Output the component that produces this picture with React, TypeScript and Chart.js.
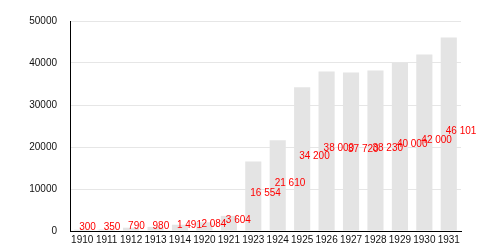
import React, { useEffect, useRef } from "react";
import { Chart, registerables } from "chart.js";

Chart.register(...registerables);

const years = ["1910", "1911", "1912", "1913", "1914", "1920", "1921", "1923", "1924", "1925", "1926", "1927", "1928", "1929", "1930", "1931"];
const population = [300, 350, 790, 980, 1491, 2084, 3604, 16554, 21610, 34200, 38000, 37720, 38230, 40000, 42000, 46101];
const yTicks = [0, 10000, 20000, 30000, 40000, 50000];

const fmt = (v: number) => String(v).replace(/\B(?=(\d{3})+(?!\d))/g, " ");

const labelPlugin = {
  id: "valueLabels",
  afterDatasetsDraw(chart: any) {
    const ctx = chart.ctx;
    const meta = chart.getDatasetMeta(0);
    const yScale = chart.scales.y;
    ctx.save();
    ctx.fillStyle = "#ff0000";
    ctx.font = "10px 'Liberation Sans', Arial, sans-serif";
    ctx.textAlign = "left";
    ctx.textBaseline = "alphabetic";
    meta.data.forEach((bar: any, i: number) => {
      const v = population[i];
      const y = yScale.getPixelForValue(v / 2);
      ctx.fillText(fmt(v), bar.x - 3, y);
    });
    ctx.restore();
  },
};

export default function App() {
  const ref = useRef<HTMLCanvasElement>(null);
  useEffect(() => {
    document.body.style.margin = "0";
    const chart = new Chart(ref.current!, {
      type: "bar",
      data: {
        labels: years,
        datasets: [
          {
            data: population,
            backgroundColor: "#e4e4e4",
            borderWidth: 0,
            barPercentage: 0.66,
            categoryPercentage: 1,
          },
        ],
      },
      options: {
        animation: false,
        responsive: false,
        devicePixelRatio: 1,
        layout: { padding: { top: 21, right: 39, left: 0, bottom: 0 } },
        plugins: { legend: { display: false }, tooltip: { enabled: false } },
        scales: {
          x: {
            grid: { display: false, drawTicks: false },
            border: { color: "#000000", width: 1 },
            ticks: {
              color: "#111",
              font: { family: "'Liberation Sans', Arial, sans-serif", size: 10 },
              padding: 3,
              maxRotation: 0,
              autoSkip: false,
            },
            afterFit: (s: any) => {
              s.height = 19;
            },
          },
          y: {
            min: 0,
            max: 50000,
            grid: { color: "#e6e6e6", drawTicks: false },
            border: { color: "#000000", width: 1 },
            afterBuildTicks: (s: any) => {
              s.ticks = yTicks.map((v) => ({ value: v }));
            },
            ticks: {
              color: "#111",
              font: { family: "'Liberation Sans', Arial, sans-serif", size: 10 },
              padding: 13,
              callback: (v: any) => String(v),
            },
            afterFit: (s: any) => {
              s.width = 70;
            },
          },
        },
      },
      plugins: [labelPlugin],
    });
    return () => chart.destroy();
  }, []);
  return (
    <div style={{ width: 500, height: 250 }}>
      <canvas ref={ref} width={500} height={250} />
    </div>
  );
}
